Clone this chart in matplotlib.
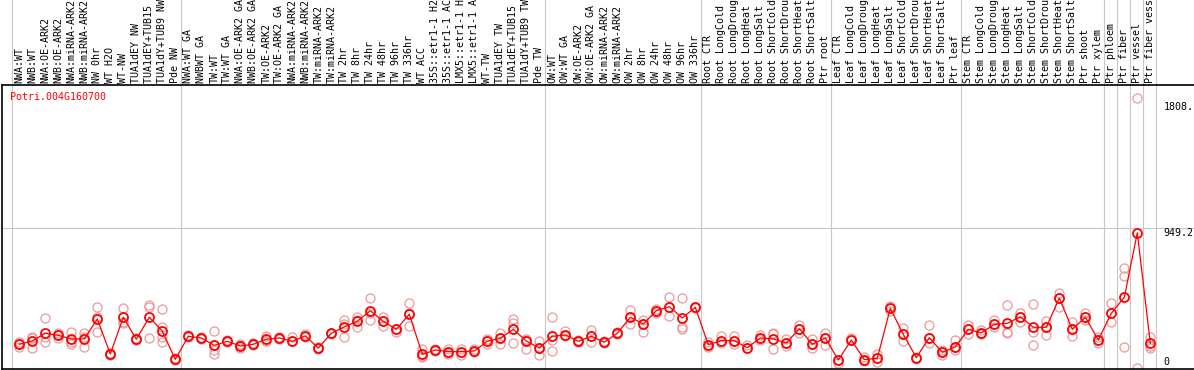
import numpy as np
import matplotlib

matplotlib.use("Agg")
import matplotlib.pyplot as plt
from matplotlib.transforms import blended_transform_factory, offset_copy

gene = "Potri.004G160700"

labels = [
    "NWA:WT", "NWB:WT", "NWA:OE-ARK2", "NWB:OE-ARK2", "NWA:miRNA-ARK2", "NWB:miRNA-ARK2",
    "NW 0hr", "WT H2O", "WT-NW", "TUA1dEY NW", "TUA1dEY+TUB15 NW", "TUA1dY+TUB9 NW", "Pde NW",
    "NWA:WT GA", "NWBWT GA", "TW:WT", "TW:WT GA", "NWA:OE-ARK2 GA", "NWB:OE-ARK2 GA",
    "TW:OE-ARK2", "TW:OE-ARK2 GA", "NWA:miRNA-ARK2", "NWB:miRNA-ARK2", "TW:miRNA-ARK2",
    "TW:miRNA-ARK2", "TW 2hr", "TW 8hr", "TW 24hr", "TW 48hr", "TW 96hr", "TW 336hr", "WT ACC",
    "35S::etr1-1 H2O", "35S::etr1-1 ACC", "LMX5::etr1-1 H2O", "LMX5::etr1-1 ACC", "WT-TW",
    "TUA1dEY TW", "TUA1dEY+TUB15 TW", "TUA1dY+TUB9 TW", "Pde TW",
    "OW:WT", "OW:WT GA", "OW:OE-ARK2", "OW:OE-ARK2 GA", "OW:miRNA-ARK2", "OW:miRNA-ARK2",
    "OW 2hr", "OW 8hr", "OW 24hr", "OW 48hr", "OW 96hr", "OW 336hr",
    "Root CTR", "Root LongCold", "Root LongDrought", "Root LongHeat", "Root LongSalt",
    "Root ShortCold", "Root ShortDrought", "Root ShortHeat", "Root ShortSalt", "Ptr root",
    "Leaf CTR", "Leaf LongCold", "Leaf LongDrought", "Leaf LongHeat", "Leaf LongSalt",
    "Leaf ShortCold", "Leaf ShortDrought", "Leaf ShortHeat", "Leaf ShortSalt", "Ptr leaf",
    "Stem CTR", "Stem LongCold", "Stem LongDrought", "Stem LongHeat", "Stem LongSalt",
    "Stem ShortCold", "Stem ShortDrought", "Stem ShortHeat", "Stem ShortSalt", "Ptr shoot",
    "Ptr xylem", "Ptr phloem", "Ptr fiber", "Ptr vessel", "Ptr fiber vessel",
]

group_sizes = [13, 28, 12, 10, 10, 11, 1, 1, 1, 1]

means = [
    240, 261, 310, 297, 274, 274, 401, 178, 412, 272, 412, 324, 144,
    291, 280, 233, 259, 229, 240, 272, 280, 259, 293, 216, 310, 350, 386,
    454, 386, 335, 431, 176, 204, 193, 193, 197, 259, 278, 335, 261, 216,
    291, 299, 259, 291, 253, 310, 412, 369, 454, 479, 407, 475,
    237, 263, 263, 218, 280, 274, 248, 339, 240, 280,
    140, 267, 142, 151, 469, 303, 155, 282, 189, 223,
    335, 312, 367, 373, 415, 348, 348, 534, 335, 412, 267,
    437, 539, 949.2, 246,
]

replicates = [
    [256, 240, 223], [288, 281, 214], [405, 284, 253], [310, 300, 278], [318, 256, 242],
    [314, 287, 221], [475, 415, 320], [186, 178, 172], [469, 384, 373], [278, 272, 267],
    [490, 475, 278], [462, 352, 288, 256], [151, 140],
    [298, 285], [285, 275], [324, 204, 178], [265, 253], [240, 233, 214], [250, 235],
    [293, 263, 260], [288, 275], [284, 259], [305, 285], [220, 212], [314, 306],
    [394, 372, 284], [415, 395, 348], [532, 437, 394], [415, 388, 356], [335, 320],
    [501, 436, 356], [208, 163, 157], [208, 200], [208, 193, 178], [208, 193, 172],
    [208, 192], [272, 262, 242], [314, 278, 242], [401, 373, 246], [272, 265, 208],
    [263, 216, 172],
    [412, 265, 197], [326, 290], [265, 253], [331, 291, 256], [258, 248], [315, 305],
    [458, 412, 367], [394, 369, 318], [462, 454, 437], [539, 479, 421], [532, 352, 335],
    [480, 469],
    [256, 237, 220], [293, 263, 250], [293, 263, 240], [235, 218], [299, 280, 270],
    [314, 305, 208], [272, 248, 229], [363, 339, 314], [272, 240, 214], [314, 280, 235],
    [140, 123], [278, 267], [161, 142, 135], [178, 151, 129], [483, 469, 454],
    [342, 303, 260], [161, 155], [361, 282, 246], [204, 189, 172], [267, 223, 204],
    [363, 335, 305], [331, 312, 305], [394, 367, 348], [488, 320, 312], [441, 415, 384],
    [496, 320, 235], [390, 348, 299], [568, 534, 475], [384, 335, 293], [437, 412, 394],
    [284, 267, 246],
    [501, 437, 384], [723, 674, 221], [1808.4, 90], [288, 229, 214],
]

RED = "#ff0000"
PINK = "#e99a9a"
GRID = "#c8c8c8"
MONO = "DejaVu Sans Mono"

fig = plt.figure(figsize=(11.94, 3.70), dpi=100)
ax = fig.add_axes([1.5 / 1194, 1 / 370, 1 - 1.5 / 1194, 284 / 370])
ax.set_xlim(-1.37, 90.36)
ax.set_ylim(82.7, 1889.3)

x = np.arange(len(means))

# group separators, running up through the label header
bounds = [-0.6] + list(np.cumsum(group_sizes) - 0.6)
for b in bounds:
    ax.axvline(b, ymin=0, ymax=1.31, color=GRID, lw=0.8, clip_on=False, zorder=0)

# reference line at the highest mean
m = max(means)
tr = blended_transform_factory(ax.transAxes, offset_copy(ax.transData, fig=fig, y=5, units="dots"))
ax.plot([0, 1], [m, m], color=GRID, lw=0.8, transform=tr, zorder=0)

rx = [i for i, reps in enumerate(replicates) for _ in reps]
ry = [v for reps in replicates for v in reps]
ax.plot(rx, ry, ls="none", marker="o", ms=6.5, mfc="none", mec=PINK, mew=0.9, zorder=2)
ax.plot(x, means, color=RED, lw=0.9, marker="o", ms=6.5, mfc="none", mec=RED, mew=1.3, zorder=3)

# header labels
top = blended_transform_factory(ax.transData, ax.transAxes)
for i, lab in enumerate(labels):
    ax.text(i, 1.006, lab, transform=top, rotation=90, ha="center", va="bottom",
            fontsize=7.2, family=MONO, clip_on=False)

ax.text(0.0068, 0.958, gene, transform=ax.transAxes, color=RED, fontsize=7.2,
        family=MONO, va="center", ha="left")

# value labels on the right
vmax = max(ry)
ax.annotate(f"{vmax:.1f}"[:5], xy=(88.0, vmax), xytext=(0, -6.5), textcoords="offset points",
            fontsize=7.2, family=MONO, va="center", ha="left")
ax.annotate(f"{m:.1f}"[:5], xy=(88.0, m), fontsize=7.2, family=MONO, va="center", ha="left")
ax.annotate("0", xy=(88.0, 82.7), xytext=(0, 5), textcoords="offset points",
            fontsize=7.2, family=MONO, va="center", ha="left")

for s in ["right"]:
    ax.spines[s].set_visible(False)
for s in ["left", "top", "bottom"]:
    ax.spines[s].set_linewidth(1.2)
ax.set_xticks([])
ax.set_yticks([])

fig.savefig("out.png", dpi=100)
